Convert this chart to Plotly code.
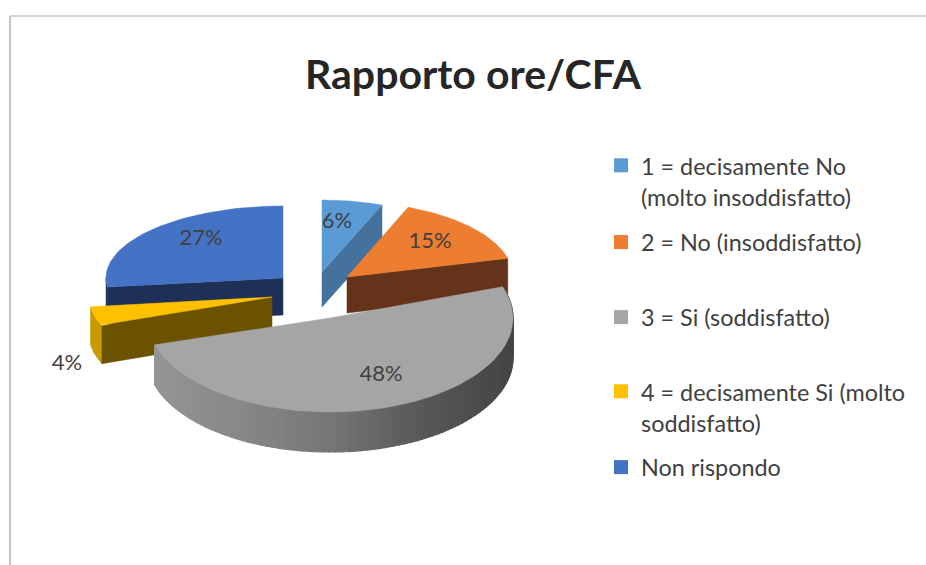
import math
import plotly.graph_objects as go

W, H = 926, 565
title = "Rapporto ore/CFA"
categories = [
    ["1 = decisamente No", "(molto insoddisfatto)"],
    ["2 = No (insoddisfatto)"],
    ["3 = Si (soddisfatto)"],
    ["4 = decisamente Si (molto", "soddisfatto)"],
    ["Non rispondo"],
]
values = [6, 15, 48, 4, 27]
top_colors = ["#5b9bd5", "#ed7d31", "#a5a5a5", "#ffc000", "#4472c4"]
cut_colors = ["#44729c", "#65331a", None, "#6b5200", "#1f3056"]
rim_colors = ["#44729c", "#65331a", None, "#c79a00", "#1f3056"]

# projected ellipse of each exploded slice: pivot x, pivot y, radius x, radius y, depth
cx = [322, 347, 330, 272, 283]
cy = [272, 277, 318, 297, 278]
rx = [163, 166, 183, 183, 177]
ry = [72, 75, 94, 78, 72]
depth = [35, 36, 40, 38, 37]
# the front slice looks wider under the reference's perspective
spread = [0, 0, 5, 0, 0]
label_x = [337, 430, 381, 67, 201]
label_y = [222, 242, 375, 364, 239]
legend_x = [601, 601, 601, 601, 601]
legend_y = [112, 220, 295, 338, 445]
draw_order = [0, 4, 3, 1, 2]

FONT = "Lato, Carlito, Calibri, sans-serif"
INK = "#404040"


def pt(i, deg, dz=0):
    a = math.radians(deg)
    return cx[i] + rx[i] * math.sin(a), cy[i] - ry[i] * math.cos(a) + dz


def arc(i, a0, a1, dz=0, n=60):
    return [pt(i, a0 + (a1 - a0) * k / n, dz) for k in range(n + 1)]


def poly(points, color, fig, width=0.5):
    fig.add_trace(go.Scatter(
        x=[p[0] for p in points] + [points[0][0]],
        y=[p[1] for p in points] + [points[0][1]],
        mode="lines", fill="toself", fillcolor=color,
        line=dict(color=color, width=width),
        hoverinfo="skip", showlegend=False))


def lerp_grey(t):
    stops = [(0.0, 0x96), (0.25, 0x88), (0.5, 0x76), (0.75, 0x58), (1.0, 0x44)]
    for (t0, g0), (t1, g1) in zip(stops, stops[1:]):
        if t <= t1:
            g = round(g0 + (g1 - g0) * (t - t0) / (t1 - t0))
            return f"rgb({g},{g},{g})"
    return "rgb(68,68,68)"


total = sum(values)
starts = []
acc = 0
for v in values:
    starts.append(acc / total * 360)
    acc += v
ends = starts[1:] + [360]

fig = go.Figure()

for i in draw_order:
    a0, a1 = starts[i] - spread[i], ends[i] + spread[i]
    d = depth[i]
    if i == 2:
        # curved outer wall with a left-to-right shading
        n = 90
        lo, hi = max(a0, 65), min(a1, 270)
        for k in range(n):
            b0 = lo + (hi - lo) * k / n
            b1 = lo + (hi - lo) * (k + 1) / n
            seg = arc(i, b0, b1, 0, 2) + arc(i, b1, b0, d, 2)
            xm = pt(i, (b0 + b1) / 2)[0]
            t = (xm - (cx[i] - rx[i])) / (2 * rx[i])
            poly(seg, lerp_grey(t), fig, width=1.2)
    else:
        # outer wall visible below the front part of the rim
        lo, hi = max(a0, 90), min(a1, 270)
        if hi > lo:
            poly(arc(i, lo, hi) + arc(i, hi, lo, d), rim_colors[i], fig)
        # flat cut face
        corner = a0 if i == 3 else (a1 if i in (0, 1) else a0)
        p = pt(i, corner)
        c = (cx[i], cy[i])
        poly([c, p, (p[0], p[1] + d), (c[0], c[1] + d)], cut_colors[i], fig)
    poly([(cx[i], cy[i])] + arc(i, a0, a1), top_colors[i], fig)

# percentage labels
fig.add_trace(go.Scatter(
    x=label_x, y=label_y, mode="text",
    text=[f"{v}%" for v in values],
    textfont=dict(family=FONT, size=22, color=INK),
    textposition="middle center", hoverinfo="skip", showlegend=False))


def entry(lines):
    # a blank first line keeps the swatch level with the first text line of a two-line entry
    rows = (["&nbsp;"] + lines) if len(lines) > 1 else lines
    return "<br>".join(f'<span style="font-size:23.4px">{r}</span>' for r in rows)


# legend: one native legend per entry so the uneven rows match
legends = {}
for i, lines in enumerate(categories):
    key = "legend" if i == 0 else f"legend{i + 1}"
    fig.add_trace(go.Scatter(
        x=[None], y=[None], mode="markers", name=entry(lines),
        legend=key,
        marker=dict(symbol="square", size=14, color=top_colors[i])))
    legends[key] = dict(
        x=legend_x[i] / W, y=1 - legend_y[i] / H, xanchor="left", yanchor="top",
        bgcolor="rgba(0,0,0,0)", borderwidth=0,
        font=dict(family=FONT, size=24, color=INK))

frame = "#c4c4c4"
shapes = [
    dict(type="line", xref="x", yref="y", x0=10, x1=10, y0=16, y1=H, line=dict(color=frame, width=2)),
    dict(type="line", xref="x", yref="y", x0=10, x1=W, y0=16, y1=16, line=dict(color=frame, width=1.5)),
]

fig.update_layout(
    width=W, height=H, autosize=False,
    margin=dict(l=0, r=0, t=0, b=0),
    paper_bgcolor="white", plot_bgcolor="white",
    xaxis=dict(range=[0, W], visible=False, fixedrange=True),
    yaxis=dict(range=[H, 0], visible=False, fixedrange=True),
    title=dict(text=f"<b>{title}</b>", x=473 / W, y=1 - 75 / H,
               xanchor="center", yanchor="middle",
               font=dict(family=FONT, size=41, color="#262626")),
    shapes=shapes,
    **legends,
)

fig.write_html("out.html", config={"displayModeBar": False},
               post_script="document.body.style.margin='0';document.documentElement.style.overflow='hidden';")
